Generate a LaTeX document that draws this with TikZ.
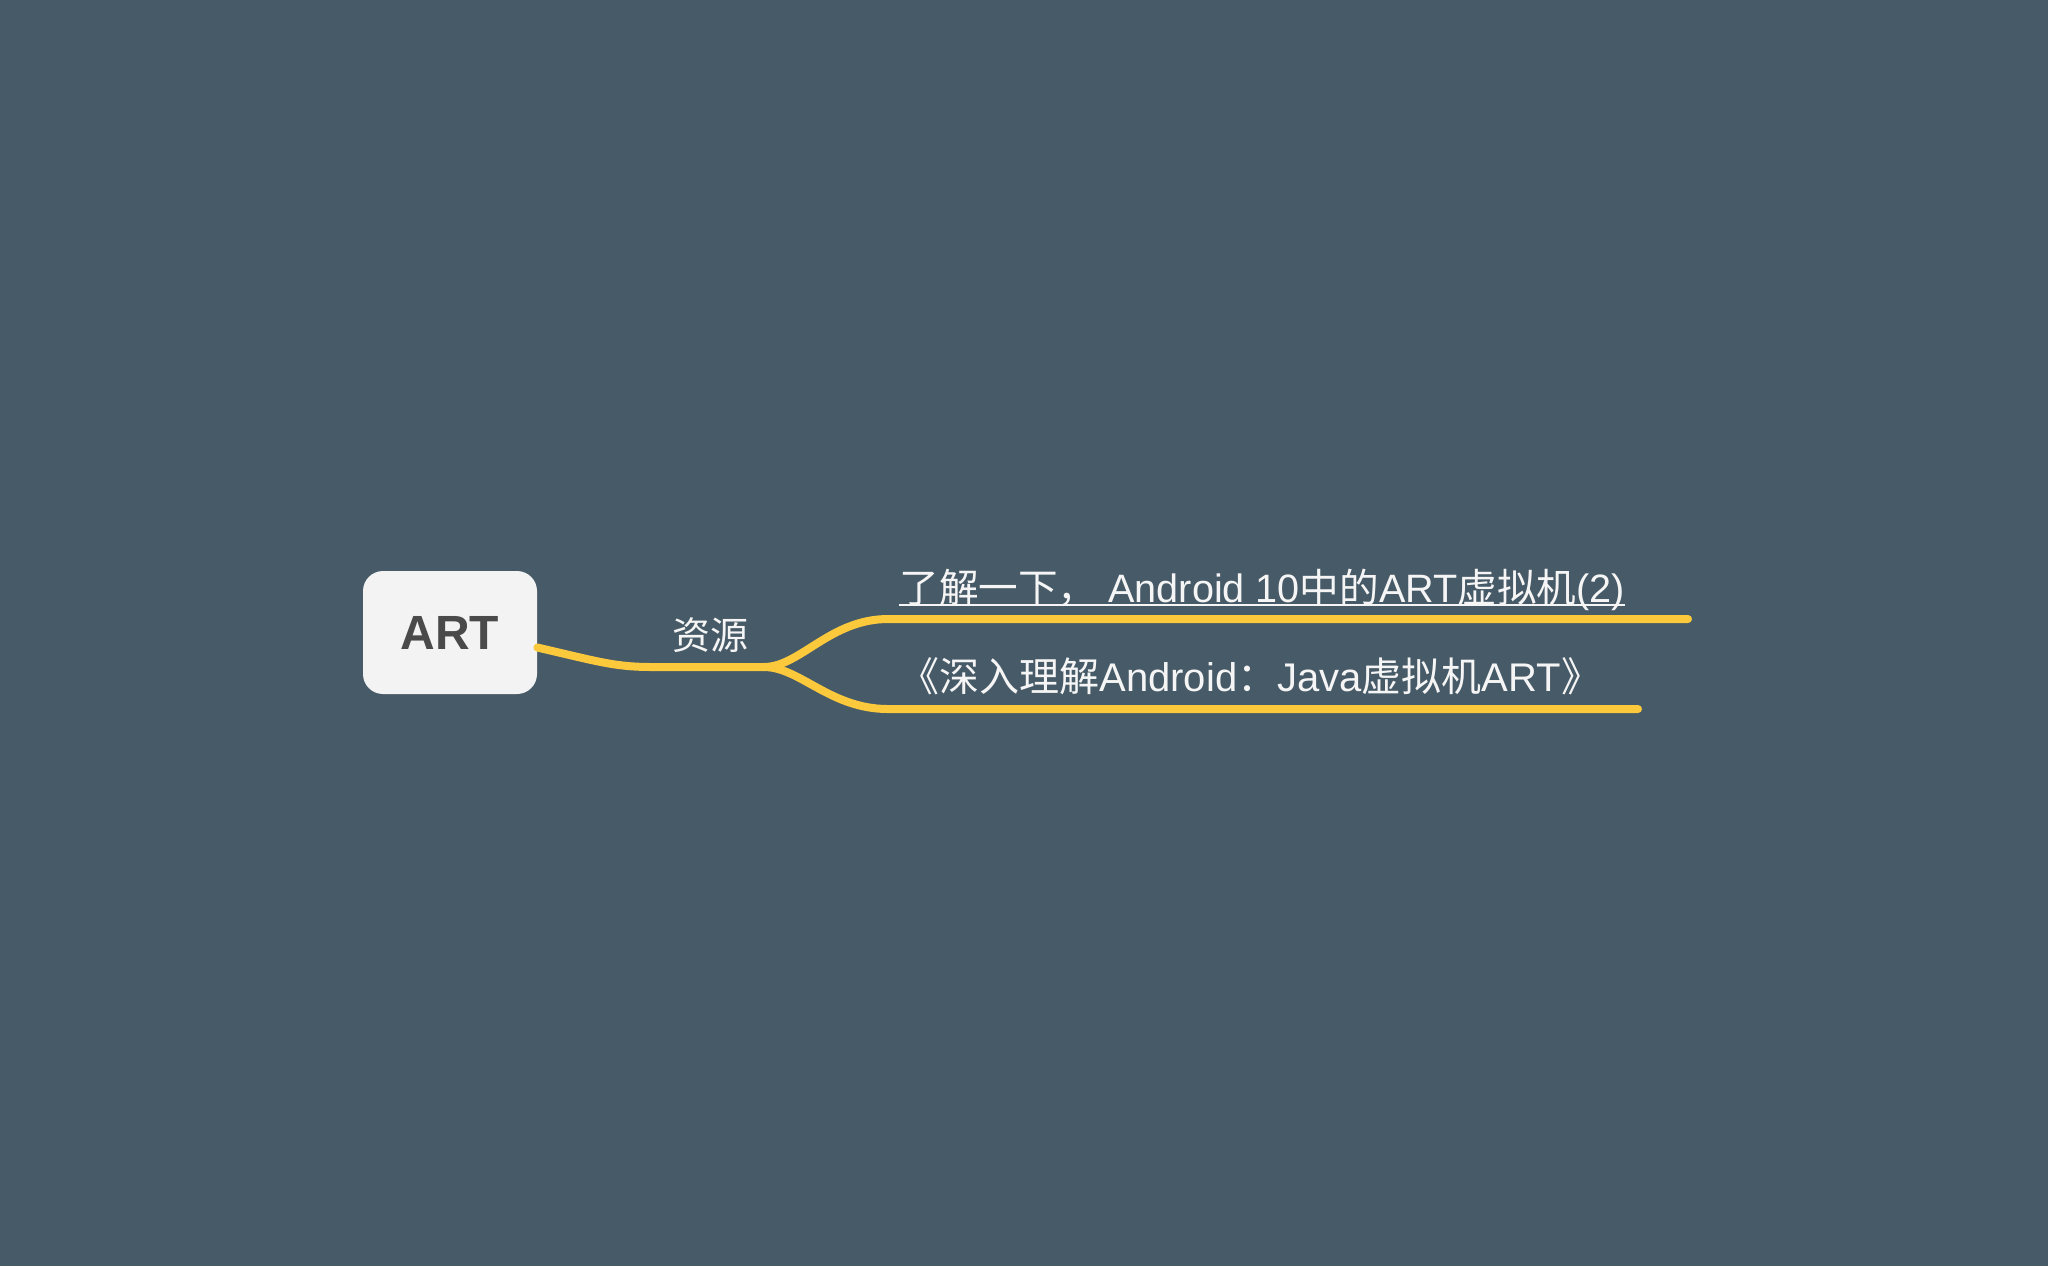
\documentclass[tikz,border=0pt]{standalone}
\usepackage{fontspec}
\newfontfamily\cjk{Noto Sans CJK SC}
\newfontfamily\lat{Liberation Sans}
\definecolor{bg}{HTML}{475A67}
\definecolor{branch}{HTML}{FDC93C}
\definecolor{boxfill}{HTML}{F3F3F3}
\definecolor{boxtext}{HTML}{4A4A4A}
\definecolor{lbl}{HTML}{F5F5F5}
\begin{document}
\begin{tikzpicture}[x=0.5pt,y=-0.5pt,
  rootbox/.style={draw=none,fill=boxfill,rounded corners=10pt,minimum width=87pt,minimum height=61.5pt,inner sep=0pt,text=boxtext,font=\lat\bfseries\fontsize{24pt}{28pt}\selectfont},
  lbltext/.style={inner sep=0pt,text=lbl,font=\fontsize{20pt}{23pt}\selectfont},
  conn/.style={draw=branch,line width=4pt,line cap=round},
  ul/.style={draw=lbl,line width=1pt}]
\fill[bg] (0,0) rectangle (2048,1266);
\useasboundingbox (0,0) rectangle (2048,1266);
\node[rootbox] (art) at (450,632.5) {ART};
\node[lbltext,font=\fontsize{19pt}{22pt}\selectfont,anchor=center] (src) at (710,635) {\cjk 资源};
\node[lbltext,font=\fontsize{19.8pt}{23pt}\selectfont,anchor=base west] (t1) at (899,602) {\cjk 了解一下，\lat\ Android 10\cjk 中的\lat ART\cjk 虚拟机\lat (2)};
\node[lbltext,anchor=base west] (t2) at (899,691) {\cjk 《深入理解\lat Android\cjk ：\lat Java\cjk 虚拟机\lat ART\cjk 》};
\coordinate (a0) at ([yshift=-7.5pt]art.east);
\coordinate (s0) at (653,667);
\coordinate (s1) at (764,667);
\coordinate (u0) at (888,619);
\coordinate (u1) at (1688,619);
\coordinate (d0) at (888,709);
\coordinate (d1) at (1638,709);
\draw[conn] (a0) .. controls (600,662) and (615,667) .. (s0) -- (s1);
\draw[conn] (s1) .. controls (800,667) and (830,619) .. (u0) -- (u1);
\draw[conn] (s1) .. controls (800,667) and (830,709) .. (d0) -- (d1);
\draw[ul] ([yshift=-1.5pt]t1.base west) -- ([yshift=-1.5pt]t1.base east);
\end{tikzpicture}
\end{document}
